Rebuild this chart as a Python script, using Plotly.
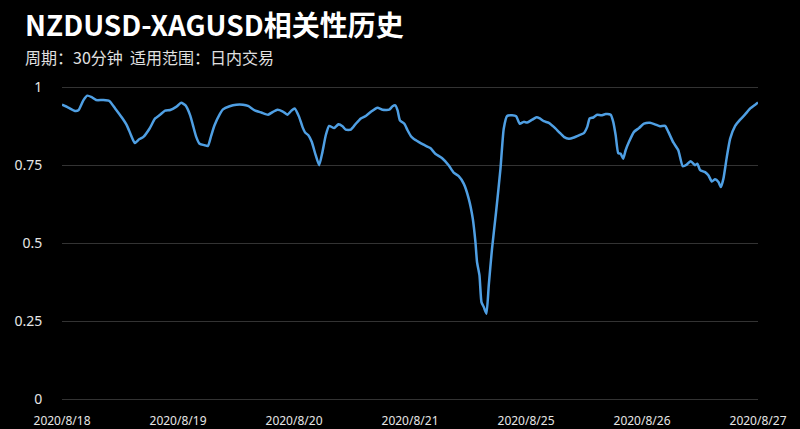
import plotly.graph_objects as go

# Trading-day positions (0 = 2020/8/18 ... 6 = 2020/8/27) and correlation values
day_pos = [
    0.000, 0.054, 0.112, 0.141, 0.184, 0.218, 0.256, 0.294, 0.357, 0.408, 0.458, 0.516,
    0.559, 0.593, 0.628, 0.665, 0.702, 0.754, 0.803, 0.846, 0.889, 0.933, 0.984,
    1.028, 1.065, 1.105, 1.129, 1.157, 1.186, 1.229, 1.258, 1.287, 1.315, 1.358, 1.388,
    1.445, 1.503, 1.560, 1.604, 1.661, 1.718, 1.776, 1.819, 1.857, 1.900, 1.943, 1.978, 2.006,
    2.044, 2.073, 2.096, 2.124, 2.153, 2.187, 2.217, 2.245, 2.274, 2.303, 2.346, 2.383,
    2.418, 2.446, 2.490, 2.533, 2.576, 2.619, 2.662, 2.720, 2.763, 2.821, 2.850, 2.873,
    2.893, 2.913, 2.951, 2.979, 3.008,
    3.031, 3.074, 3.117, 3.175, 3.218, 3.275, 3.333, 3.377, 3.420, 3.463, 3.506, 3.541,
    3.564, 3.578, 3.599, 3.616, 3.636, 3.659, 3.679, 3.707, 3.742, 3.780, 3.808, 3.837,
    3.880, 3.915, 3.946, 3.981,
    4.010, 4.053, 4.091, 4.119, 4.154, 4.197, 4.240, 4.283, 4.326, 4.370, 4.413, 4.456,
    4.499, 4.528, 4.549, 4.580, 4.614, 4.649, 4.687, 4.730, 4.752, 4.773, 4.795, 4.816,
    4.838, 4.859, 4.888, 4.931, 4.974,
    5.017, 5.069, 5.112, 5.155, 5.199, 5.227, 5.270, 5.313, 5.351, 5.386, 5.420, 5.458,
    5.477, 5.501, 5.544, 5.572, 5.602, 5.630, 5.659, 5.680, 5.702, 5.731, 5.760, 5.803,
    5.846, 5.889, 5.933, 5.976, 6.000,
]
correlation = [
    0.945, 0.936, 0.925, 0.927, 0.959, 0.974, 0.969, 0.960, 0.960, 0.957, 0.933, 0.904,
    0.879, 0.849, 0.822, 0.834, 0.842, 0.868, 0.901, 0.913, 0.926, 0.928, 0.938,
    0.951, 0.943, 0.911, 0.879, 0.842, 0.820, 0.815, 0.813, 0.847, 0.879, 0.913, 0.930,
    0.940, 0.945, 0.945, 0.941, 0.927, 0.920, 0.913, 0.922, 0.929, 0.924, 0.913, 0.926, 0.933,
    0.906, 0.874, 0.856, 0.847, 0.826, 0.783, 0.751, 0.793, 0.847, 0.877, 0.870, 0.882,
    0.876, 0.865, 0.865, 0.884, 0.901, 0.909, 0.922, 0.935, 0.929, 0.929, 0.940, 0.943,
    0.927, 0.895, 0.884, 0.863, 0.844,
    0.836, 0.826, 0.817, 0.806, 0.788, 0.774, 0.751, 0.727, 0.716, 0.692, 0.644, 0.580,
    0.505, 0.440, 0.398, 0.312, 0.296, 0.275, 0.366, 0.483, 0.601, 0.740, 0.868, 0.909,
    0.911, 0.908, 0.884, 0.890,
    0.888, 0.897, 0.905, 0.901, 0.892, 0.887, 0.874, 0.858, 0.842, 0.836, 0.840, 0.847,
    0.854, 0.874, 0.901, 0.904, 0.913, 0.911, 0.915, 0.913, 0.890, 0.847, 0.790, 0.788,
    0.772, 0.799, 0.826, 0.858, 0.870,
    0.884, 0.887, 0.882, 0.876, 0.877, 0.858, 0.824, 0.799, 0.748, 0.753, 0.764, 0.751,
    0.756, 0.735, 0.729, 0.719, 0.699, 0.706, 0.697, 0.681, 0.708, 0.777, 0.836, 0.877,
    0.897, 0.914, 0.933, 0.945, 0.952,
]
tick_positions = [0, 1, 2, 3, 4, 5, 6]
tick_labels = ["2020/8/18", "2020/8/19", "2020/8/20", "2020/8/21",
               "2020/8/25", "2020/8/26", "2020/8/27"]
y_ticks = [0, 0.25, 0.5, 0.75, 1]
y_labels = ["0", "0.25", "0.5", "0.75", "1"]

title_text = "NZDUSD-XAGUSD相关性历史"
subtitle_text = "周期：30分钟  适用范围：日内交易"

fig = go.Figure()
fig.add_trace(go.Scatter(
    x=day_pos, y=correlation, mode="lines",
    line=dict(color="#4f9fe3", width=2.5, shape="spline", smoothing=0.5),
    hoverinfo="skip", showlegend=False,
))

fig.update_layout(
    width=800, height=429,
    paper_bgcolor="#000000", plot_bgcolor="#000000",
    margin=dict(l=62, r=42, t=86, b=28),
    font=dict(family="Noto Sans CJK SC, Noto Sans, sans-serif", color="#e6e6e6"),
    xaxis=dict(
        range=[0, 6], tickvals=tick_positions, ticktext=tick_labels,
        showgrid=False, zeroline=False, showline=False, automargin=False,
        ticks="outside", ticklen=9, tickcolor="rgba(0,0,0,0)",
        tickfont=dict(size=12, color="#e6e6e6", family="Noto Sans"),
    ),
    yaxis=dict(
        range=[-0.005, 1.005], tickvals=y_ticks, ticktext=y_labels,
        showgrid=True, gridcolor="#333333", gridwidth=1,
        zeroline=False, showline=False, automargin=False,
        ticks="outside", ticklen=16, tickcolor="rgba(0,0,0,0)",
        tickfont=dict(size=14, color="#e6e6e6", family="Noto Sans"),
    ),
    annotations=[
        dict(text="<b>" + title_text + "</b>", xref="paper", yref="paper",
             x=-0.056, y=1.196, xanchor="left", yanchor="middle", showarrow=False,
             font=dict(size=28, color="#ffffff", family="Noto Sans CJK SC")),
        dict(text=subtitle_text, xref="paper", yref="paper",
             x=-0.056, y=1.093, xanchor="left", yanchor="middle", showarrow=False,
             font=dict(size=16, color="#e0e0e0", family="Noto Sans CJK SC")),
    ],
)

fig.write_html("out.html", config={"displayModeBar": False},
               post_script="document.body.style.margin='0';")
